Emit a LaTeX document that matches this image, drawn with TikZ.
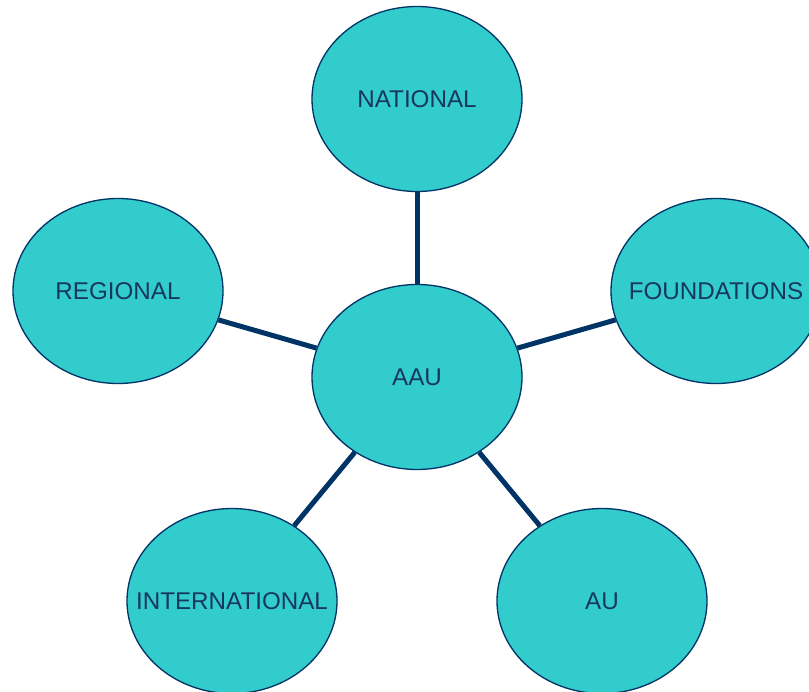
\documentclass[tikz,border=0pt]{standalone}
\usepackage{fontspec}
\setmainfont{Liberation Sans}
\usetikzlibrary{shapes.geometric}
\definecolor{tealfill}{HTML}{33CCCC}
\definecolor{navyline}{HTML}{003366}
\definecolor{navytext}{HTML}{17375E}
\newcommand{\blobtext}[1]{\makebox[0pt]{#1}}
\begin{document}
\begin{tikzpicture}[x=1bp,y=-1bp,
	blob/.style={draw=navyline, line width=1.3bp, ellipse, fill=tealfill, minimum width=210bp, minimum height=185bp, inner sep=0pt, text=navytext, font=\fontsize{24.2bp}{28bp}\selectfont},
	link/.style={draw=navyline, line width=5bp}]
	\useasboundingbox (0,0) rectangle (809,692);
	\node (aau) [blob] at (417,377) {\blobtext{AAU}};
	\node (national) [blob] at (417,99) {\blobtext{NATIONAL}};
	\node (regional) [blob] at (118,291) {\blobtext{REGIONAL}};
	\node (foundations) [blob] at (716,291) {\blobtext{FOUNDATIONS}};
	\node (international) [blob] at (232,601) {\blobtext{INTERNATIONAL}};
	\node (au) [blob] at (602,601) {\blobtext{AU}};
	\draw[link] (aau) -- (national);
	\draw[link] (aau) -- (regional);
	\draw[link] (aau) -- (foundations);
	\draw[link] (aau) -- (international);
	\draw[link] (aau) -- (au);
\end{tikzpicture}
\end{document}
